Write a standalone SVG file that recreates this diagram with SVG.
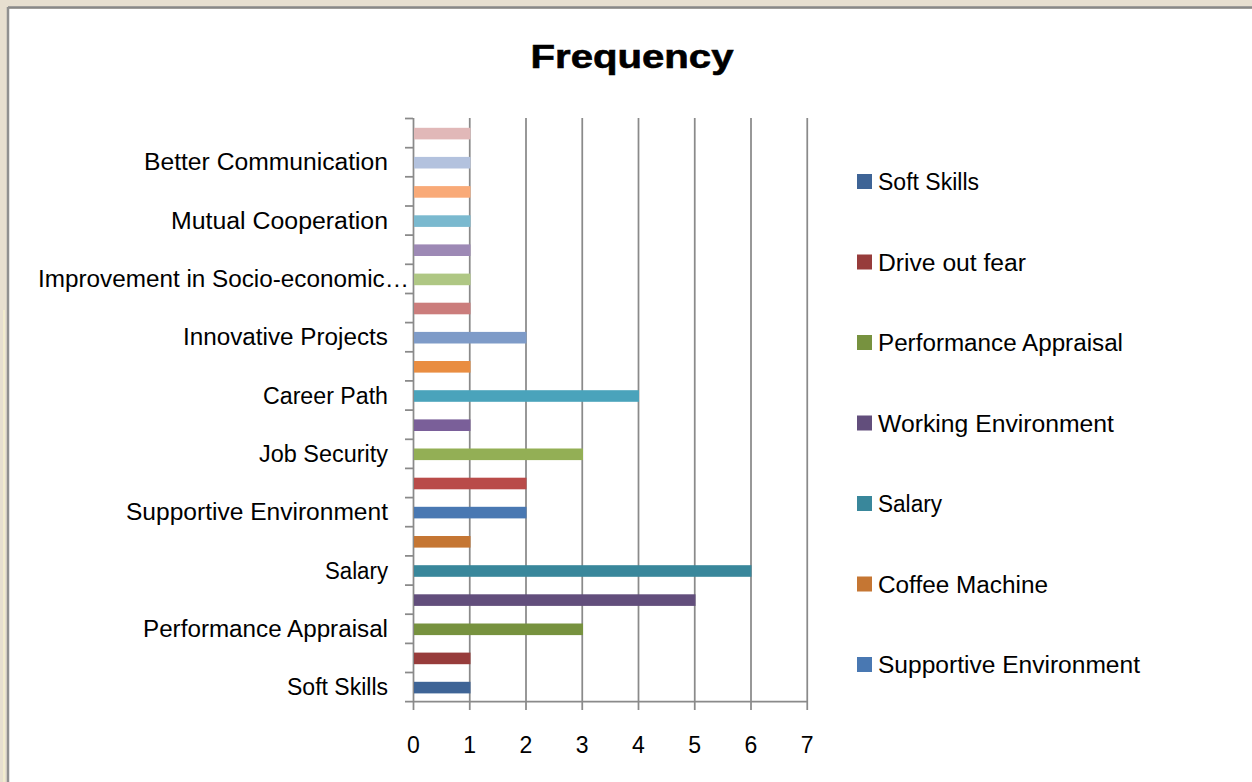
<svg xmlns="http://www.w3.org/2000/svg" width="1252" height="782" viewBox="0 0 1252 782">
  <style>
    .lbl { font-family: "Liberation Sans", Arial, sans-serif; font-size: 23px; fill: #000; }
    .cat { text-anchor: end; }
    .num { text-anchor: middle; }
    .grid { stroke: #8a8a8a; stroke-width: 1.75; fill: none; }
    .tick { stroke: #8a8a8a; stroke-width: 1.75; }
    .title { font-family: "Liberation Sans", Arial, sans-serif; font-size: 34px; font-weight: bold; text-anchor: middle; fill: #000; }
  </style>
  <!-- frame -->
  <g id="frame">
    <rect x="0" y="0" width="1252" height="782" fill="#e7dfd0"/>
    <line x1="4" y1="310" x2="4" y2="782" stroke="#f6f1cc" stroke-width="1.5"/>
    <rect x="9" y="9" width="1243" height="773" fill="#ffffff"/>
    <line x1="8" y1="7.5" x2="1252" y2="7.5" stroke="#888888" stroke-width="2.5"/>
    <line x1="8" y1="7" x2="8" y2="782" stroke="#909090" stroke-width="2.5"/>
  </g>
  <g id="title"><text class="title" x="632" y="68" textLength="203" lengthAdjust="spacingAndGlyphs" stroke="#000" stroke-width="0.6">Frequency</text></g>
  <!-- gridlines and axes -->
  <g id="grid">
    <line class="grid" x1="469.75" y1="118" x2="469.75" y2="710"/>
    <line class="grid" x1="526" y1="118" x2="526" y2="710"/>
    <line class="grid" x1="582.25" y1="118" x2="582.25" y2="710"/>
    <line class="grid" x1="638.5" y1="118" x2="638.5" y2="710"/>
    <line class="grid" x1="694.75" y1="118" x2="694.75" y2="710"/>
    <line class="grid" x1="751" y1="118" x2="751" y2="710"/>
    <line class="grid" x1="807.25" y1="118" x2="807.25" y2="710"/>
    <line class="grid" x1="413.5" y1="118" x2="413.5" y2="710"/>
    <line class="grid" x1="405" y1="701.7" x2="808" y2="701.7"/>
  </g>
  <g id="cat-ticks">
    <line class="tick" x1="405" y1="672.5" x2="413" y2="672.5"/>
    <line class="tick" x1="405" y1="643.4" x2="413" y2="643.4"/>
    <line class="tick" x1="405" y1="614.2" x2="413" y2="614.2"/>
    <line class="tick" x1="405" y1="585.1" x2="413" y2="585.1"/>
    <line class="tick" x1="405" y1="555.9" x2="413" y2="555.9"/>
    <line class="tick" x1="405" y1="526.7" x2="413" y2="526.7"/>
    <line class="tick" x1="405" y1="497.6" x2="413" y2="497.6"/>
    <line class="tick" x1="405" y1="468.4" x2="413" y2="468.4"/>
    <line class="tick" x1="405" y1="439.3" x2="413" y2="439.3"/>
    <line class="tick" x1="405" y1="410.1" x2="413" y2="410.1"/>
    <line class="tick" x1="405" y1="380.9" x2="413" y2="380.9"/>
    <line class="tick" x1="405" y1="351.8" x2="413" y2="351.8"/>
    <line class="tick" x1="405" y1="322.6" x2="413" y2="322.6"/>
    <line class="tick" x1="405" y1="293.5" x2="413" y2="293.5"/>
    <line class="tick" x1="405" y1="264.3" x2="413" y2="264.3"/>
    <line class="tick" x1="405" y1="235.1" x2="413" y2="235.1"/>
    <line class="tick" x1="405" y1="206.0" x2="413" y2="206.0"/>
    <line class="tick" x1="405" y1="176.8" x2="413" y2="176.8"/>
    <line class="tick" x1="405" y1="147.7" x2="413" y2="147.7"/>
    <line class="tick" x1="405" y1="118.5" x2="413" y2="118.5"/>
  </g>
  <!-- bars -->
  <g id="bars">
    <rect x="414" y="681.8" width="56.5" height="11.6" fill="#3e6496"/>
    <rect x="414" y="652.6" width="56.5" height="11.6" fill="#973c3b"/>
    <rect x="414" y="623.5" width="169" height="11.6" fill="#77923f"/>
    <rect x="414" y="594.3" width="281.5" height="11.6" fill="#624e7c"/>
    <rect x="414" y="565.2" width="337.5" height="11.6" fill="#39879b"/>
    <rect x="414" y="536.0" width="56.5" height="11.6" fill="#c57633"/>
    <rect x="414" y="506.8" width="112.5" height="11.6" fill="#4978b2"/>
    <rect x="414" y="477.7" width="112.5" height="11.6" fill="#b94b49"/>
    <rect x="414" y="448.5" width="169" height="11.6" fill="#93af55"/>
    <rect x="414" y="419.4" width="56.5" height="11.6" fill="#7a5f99"/>
    <rect x="414" y="390.2" width="225" height="11.6" fill="#4aa3bb"/>
    <rect x="414" y="361.0" width="56.5" height="11.6" fill="#e98d41"/>
    <rect x="414" y="331.9" width="112.5" height="11.6" fill="#7e9bc8"/>
    <rect x="414" y="302.7" width="56.5" height="11.6" fill="#cb7d7c"/>
    <rect x="414" y="273.6" width="56.5" height="11.6" fill="#afc784"/>
    <rect x="414" y="244.4" width="56.5" height="11.6" fill="#9d89b5"/>
    <rect x="414" y="215.3" width="56.5" height="11.6" fill="#7ab9cf"/>
    <rect x="414" y="186.1" width="56.5" height="11.6" fill="#f9aa78"/>
    <rect x="414" y="156.9" width="56.5" height="11.6" fill="#b3c2de"/>
    <rect x="414" y="127.8" width="56.5" height="11.6" fill="#e1b8b8"/>
  </g>
  <!-- category labels -->
  <g id="category-labels">
    <text class="lbl cat" x="388" y="695" textLength="101" lengthAdjust="spacingAndGlyphs">Soft Skills</text>
    <text class="lbl cat" x="388" y="637" textLength="245" lengthAdjust="spacingAndGlyphs">Performance Appraisal</text>
    <text class="lbl cat" x="388" y="578.5" textLength="63" lengthAdjust="spacingAndGlyphs">Salary</text>
    <text class="lbl cat" x="388" y="520" textLength="262" lengthAdjust="spacingAndGlyphs">Supportive Environment</text>
    <text class="lbl cat" x="388" y="462" textLength="129" lengthAdjust="spacingAndGlyphs">Job Security</text>
    <text class="lbl cat" x="388" y="403.5" textLength="125" lengthAdjust="spacingAndGlyphs">Career Path</text>
    <text class="lbl cat" x="388" y="345" textLength="205" lengthAdjust="spacingAndGlyphs">Innovative Projects</text>
    <text class="lbl cat" x="409" y="287" textLength="371" lengthAdjust="spacingAndGlyphs">Improvement in Socio-economic…</text>
    <text class="lbl cat" x="388" y="228.5" textLength="217" lengthAdjust="spacingAndGlyphs">Mutual Cooperation</text>
    <text class="lbl cat" x="388" y="170" textLength="244" lengthAdjust="spacingAndGlyphs">Better Communication</text>
  </g>
  <!-- value axis labels -->
  <g id="value-labels">
    <text class="lbl num" x="413.5" y="752.5">0</text>
    <text class="lbl num" x="469.75" y="752.5">1</text>
    <text class="lbl num" x="526" y="752.5">2</text>
    <text class="lbl num" x="582.25" y="752.5">3</text>
    <text class="lbl num" x="638.5" y="752.5">4</text>
    <text class="lbl num" x="694.75" y="752.5">5</text>
    <text class="lbl num" x="751" y="752.5">6</text>
    <text class="lbl num" x="807.25" y="752.5">7</text>
  </g>
  <!-- legend -->
  <g id="legend">
    <g id="leg-soft-skills"><rect x="857" y="174" width="15" height="15" fill="#3e6496"/><text class="lbl" x="878" y="190" textLength="101" lengthAdjust="spacingAndGlyphs">Soft Skills</text></g>
    <g id="leg-drive-out-fear"><rect x="857" y="254.5" width="15" height="15" fill="#973c3b"/><text class="lbl" x="878" y="270.5" textLength="148" lengthAdjust="spacingAndGlyphs">Drive out fear</text></g>
    <g id="leg-performance-appraisal"><rect x="857" y="335" width="15" height="15" fill="#77923f"/><text class="lbl" x="878" y="351" textLength="245" lengthAdjust="spacingAndGlyphs">Performance Appraisal</text></g>
    <g id="leg-working-environment"><rect x="857" y="415.5" width="15" height="15" fill="#624e7c"/><text class="lbl" x="878" y="431.5" textLength="236" lengthAdjust="spacingAndGlyphs">Working Environment</text></g>
    <g id="leg-salary"><rect x="857" y="496" width="15" height="15" fill="#39879b"/><text class="lbl" x="878" y="512" textLength="64" lengthAdjust="spacingAndGlyphs">Salary</text></g>
    <g id="leg-coffee-machine"><rect x="857" y="576.5" width="15" height="15" fill="#c57633"/><text class="lbl" x="878" y="592.5" textLength="170" lengthAdjust="spacingAndGlyphs">Coffee Machine</text></g>
    <g id="leg-supportive-environment"><rect x="857" y="657" width="15" height="15" fill="#4978b2"/><text class="lbl" x="878" y="673" textLength="262" lengthAdjust="spacingAndGlyphs">Supportive Environment</text></g>
  </g>
</svg>
